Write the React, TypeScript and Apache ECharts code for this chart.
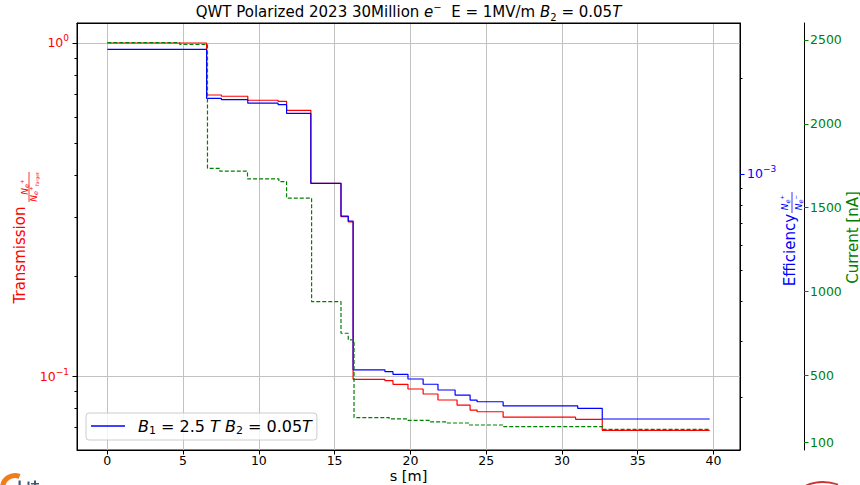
import { useEffect, useRef } from 'react';
import * as echarts from 'echarts';

const FONT = 'DejaVu Sans';
const RED = '#ff0000';
const BLUE = '#0000ff';
const GREEN = '#008000';

// Axis ticks
const xTicks = [0, 5, 10, 15, 20, 25, 30, 35, 40];
const transmissionTicks = [0.1, 1];
const transmissionMinorTicks = [0.07, 0.08, 0.09, 0.2, 0.3, 0.4, 0.5, 0.6, 0.7, 0.8, 0.9];
const efficiencyTicks = [1e-3];
const efficiencyMinorTicks = [2e-4, 3e-4, 4e-4, 5e-4, 6e-4, 7e-4, 8e-4, 9e-4, 2e-3];
const currentTicks = [100, 500, 1000, 1500, 2000, 2500];

// Transmission N_e+ / N_e+(target), each entry starts a new level at s [m]
const transmissionS = [0, 6.55, 7.53, 9.27, 11.27, 11.83, 13.43, 15.42, 15.9, 16.22, 18.32, 18.85, 19.84, 20.84, 21.82, 23.08, 23.94, 24.4, 26.12, 30.9, 32.66, 39.75];
const transmission = [1.0, 0.698, 0.692, 0.673, 0.668, 0.628, 0.379, 0.301, 0.29, 0.0977, 0.0968, 0.0944, 0.0914, 0.0883, 0.0847, 0.0818, 0.079, 0.0781, 0.0752, 0.0741, 0.0687, 0.0687];

// Efficiency N_e+ / N_e-
const efficiencyS = [0, 6.55, 7.53, 9.27, 11.27, 11.83, 13.43, 15.42, 15.9, 16.22, 18.32, 18.85, 19.84, 20.84, 21.82, 22.95, 23.94, 24.4, 26.12, 31.04, 32.66, 39.75];
const efficiency = [2.46e-3, 1.727e-3, 1.71e-3, 1.667e-3, 1.649e-3, 1.549e-3, 9.35e-4, 7.38e-4, 7.12e-4, 2.432e-4, 2.401e-4, 2.355e-4, 2.277e-4, 2.192e-4, 2.103e-4, 2.028e-4, 1.956e-4, 1.932e-4, 1.874e-4, 1.843e-4, 1.706e-4, 1.706e-4];

// Positron current [nA]
const currentS = [0, 4.78, 6.61, 7.42, 9.25, 11.32, 11.83, 13.48, 15.42, 15.9, 16.28, 18.6, 19.8, 21.3, 22.4, 23.9, 26.1, 32.7, 39.75];
const current = [2484, 2473, 1735, 1718, 1672, 1656, 1557, 940, 752, 712, 249, 241, 233, 224, 217, 205, 195, 179, 179];

const legendName = 'B₁ = 2.5 T B₂ = 0.05T';

const pairs = (xs: number[], ys: number[]) => xs.map((x, i) => [x, ys[i]]);

const tickRich = (color: string) => ({
  b: { fontFamily: FONT, fontSize: 12.5, lineHeight: 18, color },
  p: { fontFamily: FONT, fontSize: 9, lineHeight: 9, verticalAlign: 'top', color },
});

const fracRich = (color: string) => ({
  N: { fontFamily: FONT, fontSize: 9, fontStyle: 'italic', lineHeight: 12, color },
  e: { fontFamily: FONT, fontSize: 6.5, fontStyle: 'italic', lineHeight: 7, verticalAlign: 'bottom', color },
  p: { fontFamily: FONT, fontSize: 5.5, lineHeight: 8, verticalAlign: 'top', color },
  t: { fontFamily: FONT, fontSize: 4.5, fontStyle: 'italic', lineHeight: 4, verticalAlign: 'bottom', color },
});

const rotatedText = (x: number, y: number, text: string, color: string, size: number, rich?: any) => ({
  type: 'text',
  x,
  y,
  rotation: Math.PI / 2,
  silent: true,
  style: {
    text,
    fill: color,
    fontFamily: FONT,
    fontSize: size,
    align: 'center',
    verticalAlign: 'middle',
    rich,
  },
});

const noSplit = { show: false };
const gridLine = { show: true, lineStyle: { color: '#c2c2c2', width: 1 } };

const logY = (min: number, max: number, extra: any) => ({
  type: 'log',
  logBase: 10,
  min,
  max,
  axisLine: { show: false, onZero: false },
  axisLabel: { show: false },
  splitLine: noSplit,
  minorTick: { show: false },
  minorSplitLine: { show: false },
  ...extra,
});

const T_MIN = 0.05995;
const T_MAX = 1.1483;
const E_MIN = 1.3637e-4;
const E_MAX = 2.9743e-3;

const option: any = {
  animation: false,
  backgroundColor: '#ffffff',
  grid: {
    left: 77,
    right: 120,
    top: 23,
    bottom: 35,
    outerBoundsMode: 'none',
    containLabel: false,
    show: true,
    borderColor: '#000',
    borderWidth: 1,
    backgroundColor: 'transparent',
  },
  legend: {
    data: [legendName],
    left: 86,
    top: 413,
    icon: 'rect',
    itemWidth: 34,
    itemHeight: 1.3,
    padding: [5, 5, 4, 5],
    backgroundColor: 'rgba(255,255,255,0.8)',
    borderColor: '#cccccc',
    borderWidth: 1,
    borderRadius: 3,
    selectedMode: false,
    formatter: () => '{i|B}{s|1}{n| = 2.5 }{i|T}{n| }{i|B}{s|2}{n| = 0.05}{i|T}',
    textStyle: {
      padding: [0, 0, 0, 8],
      rich: {
        n: { fontFamily: FONT, fontSize: 16, lineHeight: 20, color: '#000' },
        i: { fontFamily: FONT, fontSize: 16, lineHeight: 20, fontStyle: 'italic', color: '#000' },
        s: { fontFamily: FONT, fontSize: 11, lineHeight: 10, verticalAlign: 'bottom', color: '#000' },
      },
    },
  },
  xAxis: [
    {
      type: 'value',
      min: -2.0,
      max: 41.75,
      splitNumber: 9,
      minInterval: 5,
      maxInterval: 5,
      axisLine: { show: true, onZero: false, lineStyle: { color: '#000', width: 1 } },
      axisTick: { show: true, customValues: xTicks, length: 4.5, lineStyle: { color: '#000', width: 1 } },
      axisLabel: { customValues: xTicks, fontFamily: FONT, fontSize: 12.5, color: '#000', margin: 4 },
      splitLine: gridLine,
    },
    {
      type: 'value',
      position: 'top',
      min: -2.0,
      max: 41.75,
      axisLine: { show: true, onZero: false, lineStyle: { color: '#000', width: 1 } },
      axisTick: { show: false },
      axisLabel: { show: false },
      splitLine: noSplit,
    },
  ],
  yAxis: [
    logY(T_MIN, T_MAX, {
      position: 'left',
      axisLine: { show: true, onZero: false, lineStyle: { color: '#000', width: 1 } },
      axisTick: { show: true, customValues: transmissionTicks, length: 4.5, lineStyle: { color: '#000', width: 1 } },
      axisLabel: {
        show: true,
        customValues: transmissionTicks,
        margin: 8,
        formatter: (v: number) => (v > 0.5 ? '{b|10}{p|0}' : '{b|10}{p|−1}'),
        rich: tickRich(RED),
      },
      splitLine: gridLine,
    }),
    logY(T_MIN, T_MAX, {
      position: 'left',
      axisTick: { show: true, customValues: transmissionMinorTicks, length: 2.5, lineStyle: { color: '#000', width: 1 } },
    }),
    logY(E_MIN, E_MAX, {
      position: 'right',
      axisLine: { show: true, onZero: false, lineStyle: { color: '#000', width: 1 } },
      axisTick: { show: true, customValues: efficiencyTicks, length: 4.5, lineStyle: { color: BLUE, width: 1 } },
      axisLabel: {
        show: true,
        customValues: efficiencyTicks,
        margin: 7,
        formatter: () => '{b|10}{p|−3}',
        rich: tickRich(BLUE),
      },
    }),
    logY(E_MIN, E_MAX, {
      position: 'right',
      axisTick: { show: true, customValues: efficiencyMinorTicks, length: 2.5, lineStyle: { color: '#000', width: 1 } },
    }),
    {
      type: 'value',
      position: 'right',
      offset: 64,
      min: 56,
      max: 2601,
      axisLine: { show: true, onZero: false, lineStyle: { color: '#000', width: 1 } },
      axisTick: { show: true, customValues: currentTicks, length: 4.5, lineStyle: { color: GREEN, width: 1 } },
      axisLabel: {
        customValues: currentTicks,
        formatter: (v: number) => String(Math.round(v)),
        fontFamily: FONT,
        fontSize: 12.5,
        color: GREEN,
        margin: 6,
      },
      splitLine: noSplit,
    },
  ],
  series: [
    {
      name: 'Transmission',
      type: 'line',
      xAxisIndex: 0,
      yAxisIndex: 0,
      step: 'end',
      symbol: 'none',
      silent: true,
      data: pairs(transmissionS, transmission),
      lineStyle: { color: RED, width: 1.2 },
      itemStyle: { color: RED },
      z: 2,
    },
    {
      name: legendName,
      type: 'line',
      xAxisIndex: 0,
      yAxisIndex: 2,
      step: 'end',
      symbol: 'none',
      silent: true,
      data: pairs(efficiencyS, efficiency),
      lineStyle: { color: BLUE, width: 1.2 },
      itemStyle: { color: BLUE },
      z: 3,
    },
    {
      name: 'Current',
      type: 'line',
      xAxisIndex: 0,
      yAxisIndex: 4,
      step: 'end',
      symbol: 'none',
      silent: true,
      data: pairs(currentS, current),
      lineStyle: { color: GREEN, width: 1.2, type: [4, 2] },
      itemStyle: { color: GREEN },
      z: 4,
    },
  ],
  graphic: [
    {
      type: 'text',
      x: 408.5,
      y: 12,
      silent: true,
      style: {
        text: '{n|QWT Polarized 2023 30Million }{i|e}{p|−}{n|  E = 1MV/m }{i|B}{s|2}{n| = 0.05}{i|T}',
        align: 'center',
        verticalAlign: 'middle',
        fontFamily: FONT,
        fontSize: 15,
        fill: '#000',
        rich: {
          n: { fontFamily: FONT, fontSize: 15, lineHeight: 20, color: '#000' },
          i: { fontFamily: FONT, fontSize: 15, lineHeight: 20, fontStyle: 'italic', color: '#000' },
          p: { fontFamily: FONT, fontSize: 10, lineHeight: 10, verticalAlign: 'top', color: '#000' },
          s: { fontFamily: FONT, fontSize: 10, lineHeight: 10, verticalAlign: 'bottom', color: '#000' },
        },
      },
    },
    // x axis title
    {
      type: 'text',
      x: 408.5,
      y: 476,
      silent: true,
      style: {
        text: 's [m]',
        align: 'center',
        verticalAlign: 'middle',
        fontFamily: FONT,
        fontSize: 14.5,
        fill: '#000',
      },
    },
    // left axis title: Transmission N_e+ / N_e+_Target
    rotatedText(19.5, 255, 'Transmission', RED, 15),
    rotatedText(24.5, 187, '{N|N}{e|e}{p|+}', RED, 9, fracRich(RED)),
    { type: 'line', silent: true, shape: { x1: 29, y1: 172, x2: 29, y2: 202 }, style: { stroke: RED, lineWidth: 0.8 } },
    rotatedText(33.5, 187, '{N|N}{e|e}{p|+}{t|Target}', RED, 9, fracRich(RED)),
    // blue axis title: Efficiency N_e+ / N_e-
    rotatedText(790, 250, 'Efficiency', BLUE, 15),
    rotatedText(785, 202.5, '{N|N}{e|e}{p|+}', BLUE, 9, fracRich(BLUE)),
    { type: 'line', silent: true, shape: { x1: 792, y1: 192, x2: 792, y2: 213 }, style: { stroke: BLUE, lineWidth: 0.8 } },
    rotatedText(798.5, 202.5, '{N|N}{e|e}{p|−}', BLUE, 9, fracRich(BLUE)),
    // green axis title
    rotatedText(852.5, 237.5, 'Current [nA]', GREEN, 15),
    // logo fragments along the lower edge
    {
      type: 'arc',
      silent: true,
      shape: { cx: 15, cy: 488, r: 12.5, startAngle: Math.PI, endAngle: Math.PI * 1.62, clockwise: true },
      style: { stroke: '#f07c1b', lineWidth: 5, fill: 'none' },
    },
    { type: 'rect', silent: true, shape: { x: 18.5, y: 480.5, width: 2.2, height: 5 }, style: { fill: '#3b5a7a' } },
    { type: 'rect', silent: true, shape: { x: 27.5, y: 481.5, width: 2, height: 4 }, style: { fill: '#3b5a7a' } },
    { type: 'rect', silent: true, shape: { x: 34, y: 480.5, width: 2, height: 5 }, style: { fill: '#3b5a7a' } },
    { type: 'rect', silent: true, shape: { x: 31, y: 483, width: 8, height: 1.5 }, style: { fill: '#3b5a7a' } },
    {
      type: 'bezierCurve',
      silent: true,
      shape: { x1: 806, y1: 485.5, x2: 838, y2: 484.5, cpx1: 821, cpy1: 479 },
      style: { stroke: '#cc3333', lineWidth: 1.8, fill: 'none' },
    },
  ],
};

export default function App() {
  const ref = useRef<HTMLDivElement>(null);
  useEffect(() => {
    if (!ref.current) return;
    const chart = echarts.init(ref.current, null, { renderer: 'svg' });
    chart.setOption(option);
    return () => chart.dispose();
  }, []);
  return (
    <div
      ref={ref}
      style={{ position: 'fixed', left: 0, top: 0, width: 860, height: 485, background: '#ffffff' }}
    />
  );
}
